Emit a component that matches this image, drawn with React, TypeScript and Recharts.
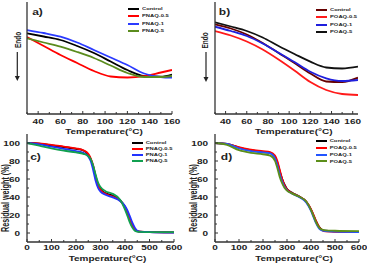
import React from "react";
import { LineChart, Line, XAxis, YAxis, Legend } from "recharts";

document.body.style.margin = "0";

const FONT = "'Liberation Sans', Arial, sans-serif";
const AXIS = "#333";
const SQUISH = 0.72;

// DSC panels (heat flow, arbitrary units)
const dscTempsA = [30, 45, 60, 75, 90, 105, 120, 135, 150, 160];
const aControl = [80.7, 77.5, 74, 68, 61, 52.5, 44, 38, 37.3, 39.5];
const aPnaq05 = [77, 68, 59, 51, 43, 37.5, 36.5, 37.8, 41.5, 44];
const aPnaq1 = [84, 81, 77.3, 71.5, 64, 56.5, 49, 40.5, 37, 36.3];
const aPnaq5 = [75.7, 71.5, 67.3, 62, 56, 48.5, 41, 37, 37, 38];

const dscTempsB = [30, 45, 60, 75, 90, 105, 120, 135, 150, 165];
const bControl = [89.7, 85.5, 79.5, 71, 61, 51, 40.5, 32.5, 32, 36.3];
const bPoaq05 = [83, 78.5, 72.5, 64.5, 54.5, 43.5, 32, 24, 20, 19];
const bPoaq1 = [87.3, 83, 78, 70.5, 61.3, 52, 42.3, 35.7, 33, 34];
const bPoaq5 = [91.7, 87.5, 83, 76.5, 68, 60, 52.3, 46.5, 45.5, 47.3];

// TGA panels (residual weight %)
const tgaTemps = [0, 50, 100, 150, 200, 230, 250, 260, 270, 280, 290, 300, 320, 350, 380, 400, 410, 420, 430, 440, 450, 460, 500, 600];
const cControl = [100, 99.3, 97.3, 95.5, 93.5, 91.7, 87, 82, 74, 63, 54, 48.5, 44.3, 41.3, 36.5, 29, 23, 16, 9.5, 4.5, 2, 1.5, 1, 0.8];
const cPnaq05 = [100, 99.5, 98, 96, 94, 92, 88, 83, 75, 63, 53, 48, 43.5, 40.5, 36, 28.5, 22.5, 15.5, 9, 4, 2, 1.5, 1, 0.8];
const cPnaq1 = [100, 98.5, 96, 93.5, 91, 89, 85, 80, 70, 58, 50, 46, 42.5, 39.5, 35.5, 30, 25, 18.5, 11.5, 6, 2.5, 1.5, 1, 0.5];
const cPnaq5 = [100, 97, 94, 91.5, 89.5, 88, 85.5, 82, 75, 65, 56, 51, 46.5, 43.5, 37, 26, 19, 11.5, 6, 2.5, 1.5, 1.2, 1, 1];

const dControl = [100, 99, 95, 92, 90, 89, 84, 78, 68.5, 60, 53.7, 49, 45, 40.7, 35, 26, 20, 13.7, 8.5, 4.8, 3, 2.6, 1.8, 1.1];
const dPoaq05 = [100, 99, 95.5, 92.5, 91, 90, 86, 80, 70, 60, 53, 48.5, 44.5, 40.5, 35, 26.5, 20.5, 14, 8.5, 4.5, 2.5, 1.8, 1.2, 1];
const dPoaq1 = [100, 99, 94, 91, 89.5, 88.5, 83, 75, 65, 57, 51, 47.5, 44, 40, 34, 24.5, 18, 11.5, 6.5, 3.5, 2.5, 2, 1.5, 1];
const dPoaq5 = [100, 98, 92, 89, 87.5, 86, 80, 72, 62, 55, 50, 47, 44, 40.5, 35, 25.5, 19, 12.5, 7.5, 4.5, 3.5, 3, 2.5, 2];

const dscTicksA = [30, 40, 50, 60, 70, 80, 90, 100, 110, 120, 130, 140, 150, 160];
const dscTicksB = [30, 40, 50, 60, 70, 80, 90, 100, 110, 120, 130, 140, 150, 160];
const tgaXTicks = [0, 50, 100, 150, 200, 250, 300, 350, 400, 450, 500, 550, 600];
const tgaYTicks = [0, 10, 20, 30, 40, 50, 60, 70, 80, 90, 100];

type Series = { name: string; color: string; values: number[] };

function XTick({ x, y, payload, step, dy }: any) {
  const v = payload.value;
  const major = v % step === 0;
  return (
    <g>
      <line x1={x} x2={x} y1={y} y2={y - (major ? 3 : 2)} stroke={AXIS} strokeWidth={1} />
      {major && (
        <text
          transform={`translate(${x},${y + dy}) scale(1,${SQUISH})`}
          textAnchor="middle"
          fontFamily={FONT}
          fontWeight={700}
          fontSize={10}
          fill="#222"
        >
          {v}
        </text>
      )}
    </g>
  );
}

function YTick({ x, y, payload, step }: any) {
  const v = payload.value;
  const major = v % step === 0;
  return (
    <g>
      <line x1={x} x2={x + (major ? 3 : 2)} y1={y} y2={y} stroke={AXIS} strokeWidth={1} />
      {major && (
        <text
          transform={`translate(${x - 7},${y + 2.6}) scale(1,${SQUISH})`}
          textAnchor="end"
          fontFamily={FONT}
          fontWeight={700}
          fontSize={10}
          fill="#222"
        >
          {v}
        </text>
      )}
    </g>
  );
}

function LegendBox({ payload, rowH }: any) {
  return (
    <div style={{ fontFamily: FONT, fontWeight: 700, fontSize: 5.8, color: "#222" }}>
      {(payload || []).map((p: any) => (
        <div key={p.value} style={{ display: "flex", alignItems: "center", height: rowH }}>
          <span style={{ display: "inline-block", width: 11, height: 2, background: p.color, marginRight: 3 }} />
          <span style={{ display: "inline-block", transform: `scaleY(${SQUISH})`, whiteSpace: "nowrap", lineHeight: 1 }}>
            {p.value}
          </span>
        </div>
      ))}
    </div>
  );
}

function Panel(props: {
  left: number; top: number; width: number; height: number;
  yWidth: number; marginRight: number; xHeight: number;
  temps: number[]; series: Series[];
  xDomain: [number, number]; xTicks: number[]; xStep: number; xDy: number;
  yDomain: [number, number]; yTicks?: number[];
  legendLeft: number; legendTop: number; legendRow: number;
}) {
  const data = props.temps.map((t, i) => {
    const row: any = { t };
    props.series.forEach((s, k) => (row["s" + k] = s.values[i]));
    return row;
  });
  const axisLine = { stroke: AXIS, strokeWidth: 1.3 };
  return (
    <div style={{ position: "absolute", left: props.left, top: props.top }}>
      <LineChart width={props.width} height={props.height} data={data} margin={{ top: 2, right: props.marginRight, left: 0, bottom: 0 }}>
        <XAxis
          dataKey="t" type="number" domain={props.xDomain} ticks={props.xTicks} interval={0}
          tickSize={0} tickMargin={0} height={props.xHeight} axisLine={axisLine} tickLine={false}
          tick={(p: any) => <XTick {...p} step={props.xStep} dy={props.xDy} />} allowDataOverflow
        />
        <XAxis xAxisId="top" orientation="top" dataKey="t" type="number" domain={props.xDomain} height={0} tick={false} tickLine={false} axisLine={axisLine} />
        <YAxis
          type="number" domain={props.yDomain} width={props.yWidth} ticks={props.yTicks} interval={0}
          tickSize={0} tickMargin={0} tickLine={false} axisLine={axisLine} allowDataOverflow
          tick={props.yTicks ? (p: any) => <YTick {...p} step={20} /> : false}
        />
        <YAxis yAxisId="right" orientation="right" type="number" domain={props.yDomain} width={0} tick={false} tickLine={false} axisLine={axisLine} />
        <Legend
          layout="vertical" align="center" verticalAlign="middle"
          wrapperStyle={{ left: props.legendLeft, top: props.legendTop, width: "auto", height: "auto" }}
          content={(p: any) => <LegendBox {...p} rowH={props.legendRow} />}
        />
        {props.series.map((s, k) => (
          <Line key={s.name} dataKey={"s" + k} name={s.name} stroke={s.color} strokeWidth={1.8} dot={false} type="monotone" isAnimationActive={false} />
        ))}
      </LineChart>
    </div>
  );
}

function Label({ x, y, text, size = 10, rotate = false }: { x: number; y: number; text: string; size?: number; rotate?: boolean }) {
  const t = rotate
    ? `translate(${x},${y}) rotate(-90) scale(${SQUISH},1)`
    : `translate(${x},${y}) scale(1,${SQUISH})`;
  return (
    <text transform={t} textAnchor="middle" dominantBaseline="central" fontFamily={FONT} fontWeight={700} fontSize={size} fill="#222">
      {text}
    </text>
  );
}

function DownArrow({ x, y1, y2 }: { x: number; y1: number; y2: number }) {
  return (
    <g>
      <line x1={x} x2={x} y1={y1} y2={y2 - 4} stroke="#222" strokeWidth={1.2} />
      <polygon points={`${x - 2.5},${y2 - 5} ${x + 2.5},${y2 - 5} ${x},${y2}`} fill="#222" />
    </g>
  );
}

export default function App() {
  const seriesA: Series[] = [
    { name: "Control", color: "#000000", values: aControl },
    { name: "PNAQ-0.5", color: "#ff0000", values: aPnaq05 },
    { name: "PNAQ-1", color: "#2b3bff", values: aPnaq1 },
    { name: "PNAQ-5", color: "#5b8c1e", values: aPnaq5 },
  ];
  const seriesB: Series[] = [
    { name: "Control", color: "#660000", values: bControl },
    { name: "POAQ-0.5", color: "#ff1a1a", values: bPoaq05 },
    { name: "POAQ-1", color: "#1f1fdd", values: bPoaq1 },
    { name: "POAQ-5", color: "#111111", values: bPoaq5 },
  ];
  const seriesC: Series[] = [
    { name: "Control", color: "#000000", values: cControl },
    { name: "PNAQ-0.5", color: "#ff0000", values: cPnaq05 },
    { name: "PNAQ-1", color: "#2233ff", values: cPnaq1 },
    { name: "PNAQ-5", color: "#11a050", values: cPnaq5 },
  ];
  const seriesD: Series[] = [
    { name: "Control", color: "#000000", values: dControl },
    { name: "POAQ-0.5", color: "#ff0000", values: dPoaq05 },
    { name: "POAQ-1", color: "#2255ff", values: dPoaq1 },
    { name: "POAQ-5", color: "#5c8f1a", values: dPoaq5 },
  ];

  return (
    <div style={{ position: "relative", width: 367, height: 265, background: "#fff", overflow: "hidden" }}>
      <Panel left={0} top={0} width={184} height={132} yWidth={27} marginRight={12} xHeight={18}
        temps={dscTempsA} series={seriesA} xDomain={[30, 160]} xTicks={dscTicksA} xStep={20} xDy={10.3}
        yDomain={[0, 112]} legendLeft={128} legendTop={5.4} legendRow={7.3} />
      <Panel left={183} top={0} width={184} height={132} yWidth={32} marginRight={9} xHeight={18}
        temps={dscTempsB} series={seriesB} xDomain={[30, 165]} xTicks={dscTicksB} xStep={20} xDy={10}
        yDomain={[0, 112]} legendLeft={133} legendTop={6.3} legendRow={7.3} />
      <Panel left={0} top={132} width={184} height={133} yWidth={27} marginRight={10} xHeight={23}
        temps={tgaTemps} series={seriesC} xDomain={[0, 600]} xTicks={tgaXTicks} xStep={100} xDy={7.8}
        yDomain={[-10, 110]} yTicks={tgaYTicks} legendLeft={131.7} legendTop={7.6} legendRow={6.2} />
      <Panel left={183} top={132} width={184} height={133} yWidth={32} marginRight={8} xHeight={23}
        temps={tgaTemps} series={seriesD} xDomain={[0, 600]} xTicks={tgaXTicks} xStep={100} xDy={7.8}
        yDomain={[-10, 110]} yTicks={tgaYTicks} legendLeft={132.7} legendTop={6} legendRow={6.7} />

      <svg width={367} height={265} style={{ position: "absolute", left: 0, top: 0, pointerEvents: "none" }}>
        <Label x={37.5} y={12.5} text="a)" size={12} />
        <Label x={224.5} y={11.7} text="b)" size={12} />
        <Label x={35.5} y={157.3} text="c)" size={12} />
        <Label x={226.5} y={157} text="d)" size={12} />

        <Label x={17.8} y={40} text="Endo" size={9} rotate />
        <DownArrow x={17.3} y1={52} y2={81} />
        <Label x={205} y={40.5} text="Endo" size={9} rotate />
        <DownArrow x={206} y1={52} y2={82} />

        <Label x={104} y={131.5} text="Temperature(°C)" />
        <Label x={293.7} y={131.5} text="Temperature(°C)" />
        <Label x={107.5} y={258.7} text="Temperature(°C)" />
        <Label x={294} y={258.8} text="Temperature(°C)" />

        <Label x={5.5} y={198} text="Residual weight (%)" rotate />
        <Label x={193.5} y={198} text="Residual weight (%)" rotate />
      </svg>
    </div>
  );
}
